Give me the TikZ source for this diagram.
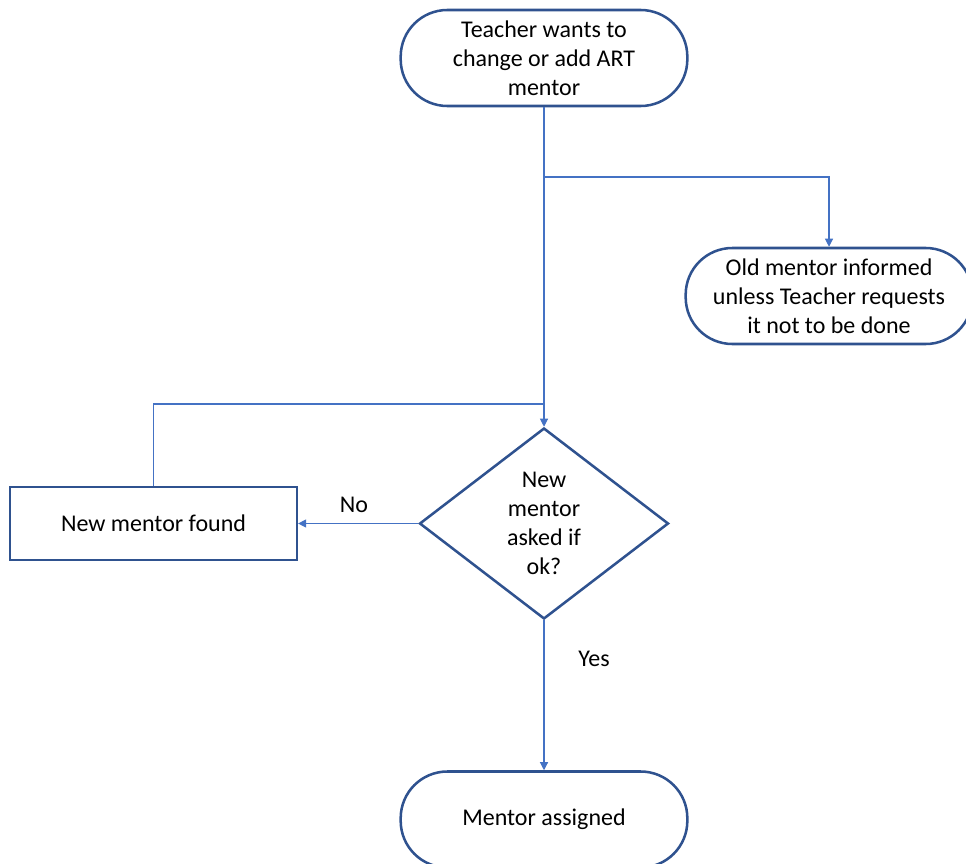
\documentclass[tikz,border=0pt]{standalone}
\usepackage{fontspec}
\setmainfont{Carlito}
\usetikzlibrary{arrows.meta,shapes.geometric}
\definecolor{edgeblue}{HTML}{2F528F}
\definecolor{linkblue}{HTML}{4472C4}
\tikzset{
  every node/.style={font=\fontsize{18pt}{21.75pt}\selectfont, align=center},
  terminal/.style={draw=edgeblue, line width=1.9pt, rectangle, rounded corners=35pt,
    minimum width=215pt, minimum height=72pt, inner sep=0pt},
  process/.style={draw=edgeblue, line width=1.9pt, rectangle,
    minimum width=215pt, minimum height=54.75pt, inner sep=0pt},
  decision/.style={draw=edgeblue, line width=1.9pt, diamond, inner sep=0pt,
    minimum width=186.75pt, minimum height=143.25pt},
  link/.style={draw=linkblue, line width=0.8pt},
  flow/.style={link, -{Triangle[length=6pt,width=6pt]}},
  lbl/.style={inner sep=0pt}
}
\begin{document}
\begin{tikzpicture}[x=0.75pt, y=-0.75pt]
  \useasboundingbox (0,0) rectangle (966,863);
  \clip (0,0) rectangle (966,863);

  % flow steps
  \node[terminal] (start) at (544,58) {Teacher wants to\\change or add ART\\mentor};
  \node[terminal] (old) at (829,296) {Old mentor informed\\unless Teacher requests\\it not to be done};
  \node[decision] (ask) at (544,523.5) {New\\mentor\\asked if\\ok?};
  \node[process] (found) at (153.5,523.5) {New mentor found};
  \node[terminal] (done) at (544,819.5) {Mentor assigned};

  % junction points of the connectors
  \coordinate (split) at (start.south |- 0,177);
  \coordinate (merge) at (ask.north |- 0,404);

  % connectors
  \draw[link] (start.south) -- (split);
  \draw[flow] (split) -- (split -| old.north) -- (old.north);
  \draw[flow] (split) -- (ask.north);
  \draw[link] (found.north) -- (found.north |- merge) -- (merge);
  \draw[flow] (ask.west) -- (found.east);
  \draw[flow] (ask.south) -- (done.north);

  % branch labels
  \node[lbl] (no) at (354,505) {No};
  \node[lbl] (yes) at (594,659) {Yes};
\end{tikzpicture}
\end{document}
